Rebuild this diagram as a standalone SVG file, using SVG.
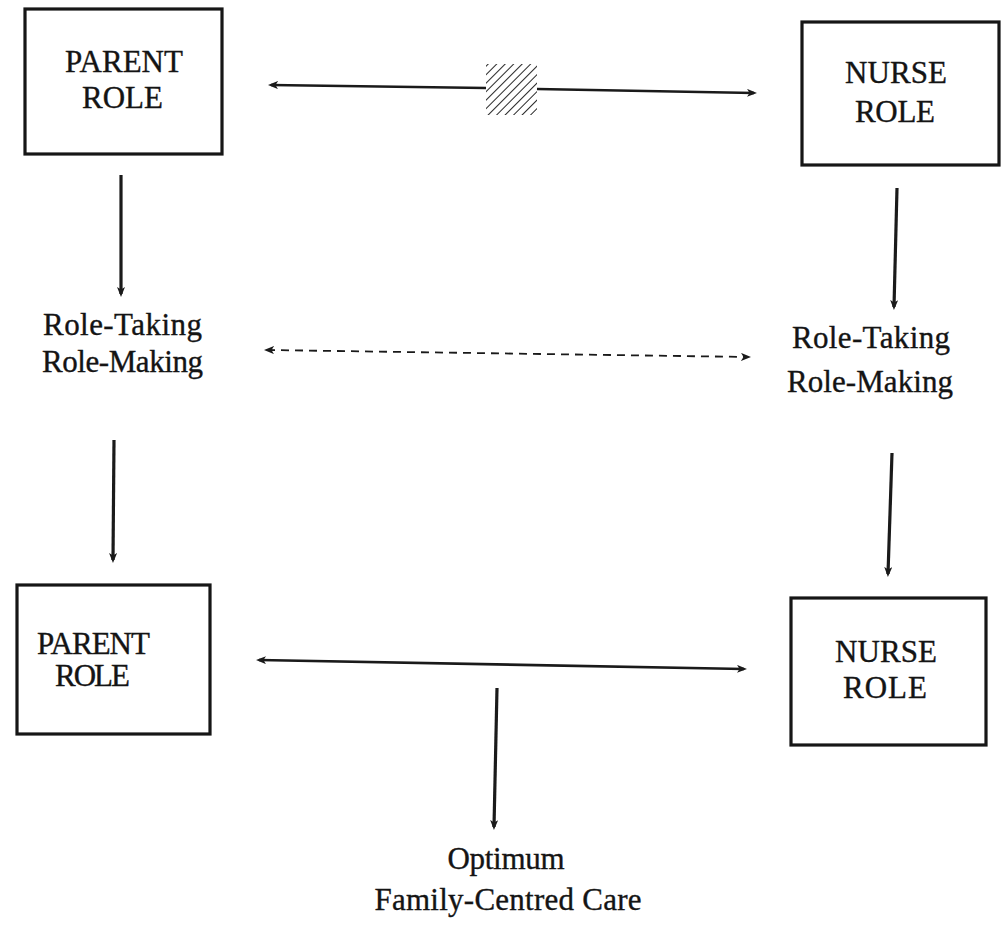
<svg xmlns="http://www.w3.org/2000/svg" width="1005" height="942" viewBox="0 0 1005 942">
  <style>
    .box { fill: #ffffff; stroke: #161616; stroke-width: 3.2; }
    .lbl { font-family: "Liberation Serif", "Times New Roman", serif; font-size: 31px; fill: #141414; stroke: #141414; stroke-width: 0.35; text-anchor: middle; }
    .solid { stroke: #1a1a1a; stroke-width: 2.6; fill: none; }
    .vert { stroke: #1a1a1a; stroke-width: 3.2; fill: none; }
    .dash { stroke: #1a1a1a; stroke-width: 1.8; fill: none; stroke-dasharray: 8 6; }
  </style>
  <defs>
    <marker id="head" viewBox="0 0 10 8" markerWidth="10" markerHeight="8" refX="7" refY="4" orient="auto-start-reverse" markerUnits="userSpaceOnUse">
      <path d="M0,0 L10,4 L0,8 L2.5,4 Z" fill="#1a1a1a"/>
    </marker>
    <pattern id="hatch" width="6" height="6" patternUnits="userSpaceOnUse" patternTransform="rotate(45)">
      <line x1="0" y1="0" x2="0" y2="6" stroke="#1a1a1a" stroke-width="1.9"/>
    </pattern>
  </defs>

  <rect width="1005" height="942" fill="#ffffff"/>

  <!-- role boxes -->
  <g id="parent-role-top">
    <rect class="box" x="25" y="9" width="197" height="145"/>
    <text class="lbl" x="124" y="72" textLength="118">PARENT</text>
    <text class="lbl" x="122.5" y="108" textLength="81">ROLE</text>
  </g>
  <g id="nurse-role-top">
    <rect class="box" x="802" y="22" width="197" height="143"/>
    <text class="lbl" x="896" y="83" textLength="102">NURSE</text>
    <text class="lbl" x="895" y="122" textLength="80">ROLE</text>
  </g>
  <g id="parent-process">
    <text class="lbl" x="122.5" y="335" textLength="159">Role-Taking</text>
    <text class="lbl" x="122.5" y="372" textLength="161">Role-Making</text>
  </g>
  <g id="nurse-process">
    <text class="lbl" x="871" y="348" textLength="158">Role-Taking</text>
    <text class="lbl" x="870" y="392" textLength="166">Role-Making</text>
  </g>
  <g id="parent-role-bottom">
    <rect class="box" x="17" y="585" width="193" height="149"/>
    <text class="lbl" x="93.5" y="654" textLength="113">PARENT</text>
    <text class="lbl" x="92.5" y="686" textLength="75">ROLE</text>
  </g>
  <g id="nurse-role-bottom">
    <rect class="box" x="791" y="598" width="195" height="147"/>
    <text class="lbl" x="886" y="662" textLength="102">NURSE</text>
    <text class="lbl" x="885" y="698" textLength="84">ROLE</text>
  </g>
  <g id="outcome">
    <text class="lbl" x="506" y="869" textLength="117">Optimum</text>
    <text class="lbl" x="508" y="910" textLength="267">Family-Centred Care</text>
  </g>

  <!-- blocked exchange between the initial roles -->
  <g id="barrier">
    <rect x="486" y="64" width="51" height="51" fill="url(#hatch)"/>
  </g>

  <!-- connectors -->
  <g id="connectors">
    <line class="solid" x1="486" y1="88" x2="271" y2="85" marker-end="url(#head)"/>
    <line class="solid" x1="537" y1="89" x2="754" y2="93" marker-end="url(#head)"/>
    <line class="dash" x1="267" y1="350" x2="748" y2="357" marker-start="url(#head)" marker-end="url(#head)"/>
    <line class="solid" x1="259" y1="660" x2="744" y2="669" marker-start="url(#head)" marker-end="url(#head)"/>
    <line class="vert" x1="121" y1="175" x2="121" y2="294" marker-end="url(#head)"/>
    <line class="vert" x1="114" y1="440" x2="113" y2="560" marker-end="url(#head)"/>
    <line class="vert" x1="897" y1="188" x2="894" y2="307" marker-end="url(#head)"/>
    <line class="vert" x1="892" y1="453" x2="888" y2="574" marker-end="url(#head)"/>
    <line class="vert" x1="497" y1="688" x2="494" y2="827" marker-end="url(#head)"/>
  </g>
</svg>
